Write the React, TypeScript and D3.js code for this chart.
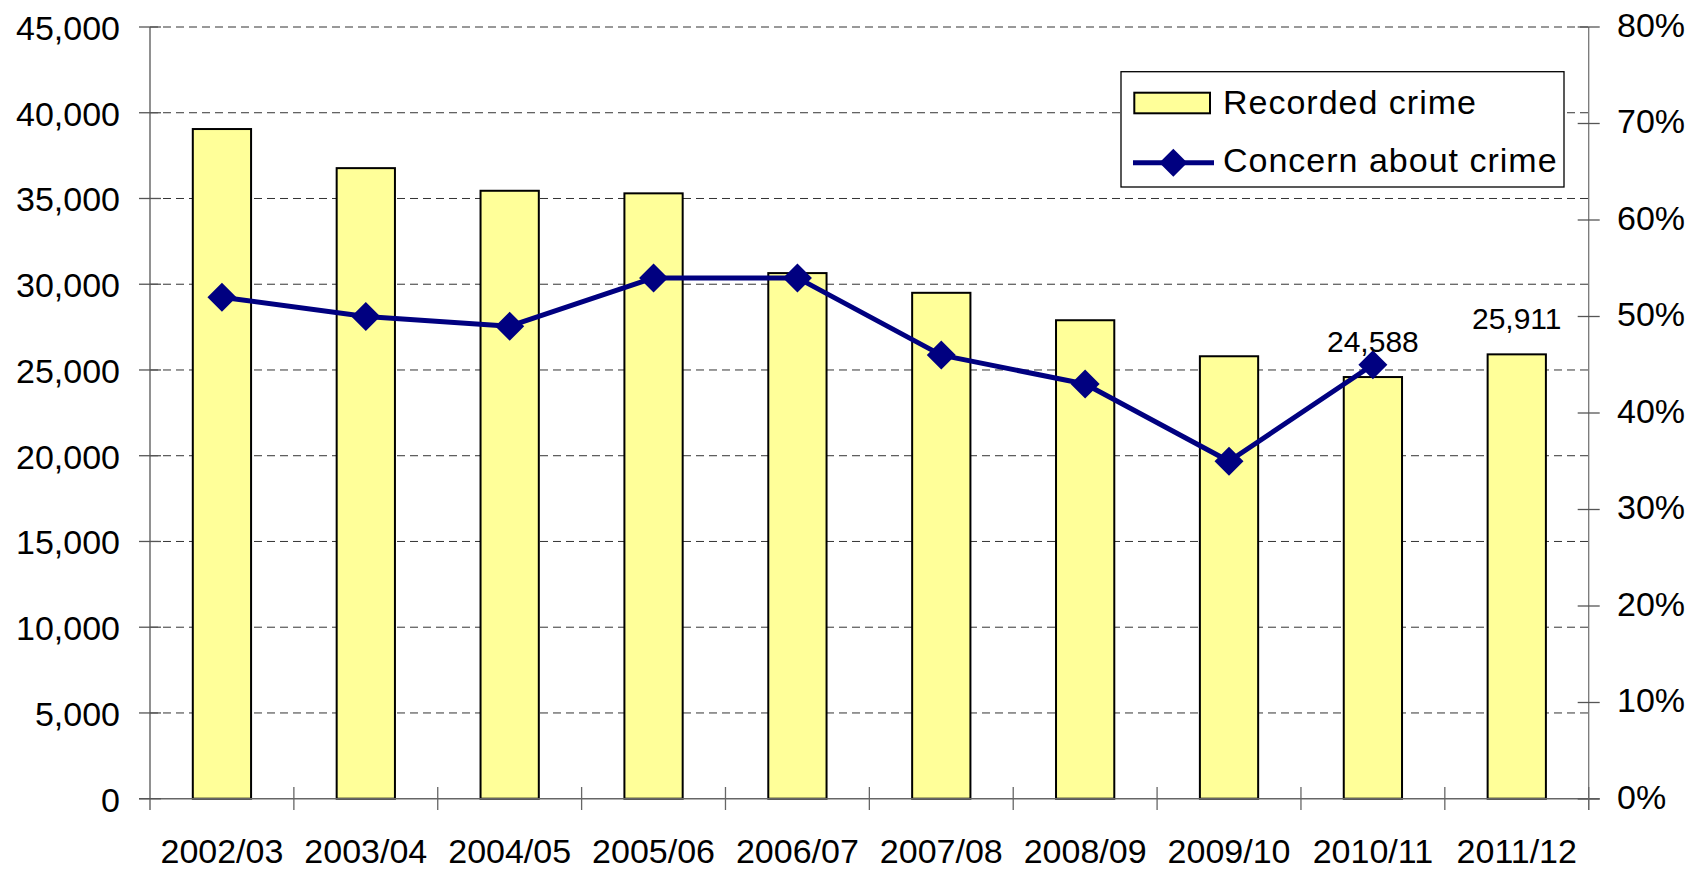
import React from "react";
import * as d3 from "d3";

const categories = ["2002/03","2003/04","2004/05","2005/06","2006/07","2007/08","2008/09","2009/10","2010/11","2011/12"];
const recordedCrime = [39050, 36770, 35450, 35300, 30650, 29500, 27900, 25800, 24588, 25911];
const concern = [0.52, 0.50, 0.49, 0.54, 0.54, 0.46, 0.43, 0.35, 0.45, null];
const leftTicks = [0,5000,10000,15000,20000,25000,30000,35000,40000,45000];
const rightTicks = [0,0.1,0.2,0.3,0.4,0.5,0.6,0.7,0.8];
const labelledIdx = [8, 9];

const W = 1699, H = 871;
const X0 = 150, X1 = 1588.7;
const FONT = "'Liberation Sans', Arial, sans-serif";

export default function App() {
  const x = d3.scaleBand<string>().domain(categories).range([X0, X1]).paddingInner(0.595).paddingOuter(0.2975);
  const step = (X1 - X0) / categories.length;
  const yL = d3.scaleLinear().domain([0, 45000]).range([798.7, 27]);
  const yR = d3.scaleLinear().domain([0, 0.8]).range([799, 27]);
  const fmt = d3.format(",");
  const pct = d3.format(".0%");
  const pts = concern.map((v, i) => ({ v, i })).filter(d => d.v !== null) as { v: number; i: number }[];
  const line = d3.line<{ v: number; i: number }>()
    .x(d => (x(categories[d.i]) as number) + x.bandwidth() / 2)
    .y(d => yR(d.v));
  const diamond = (cx: number, cy: number, r: number) => `M${cx},${cy - r}L${cx + r},${cy}L${cx},${cy + r}L${cx - r},${cy}Z`;

  return (
    <svg width={W} height={H} style={{ position: "absolute", left: 0, top: 0, background: "#fff" }} fontFamily={FONT}>
      <rect x={0} y={0} width={W} height={H} fill="#fff" />
      {/* gridlines */}
      {leftTicks.slice(1).map(t => (
        <line key={"g" + t} x1={X0} x2={X1} y1={yL(t)} y2={yL(t)} stroke="#333" strokeWidth={1} strokeDasharray="8,5" />
      ))}
      {/* bars */}
      {categories.map((c, i) => (
        <rect key={c} x={x(c)} y={yL(recordedCrime[i])} width={x.bandwidth()} height={yL(0) - yL(recordedCrime[i])}
          fill="#FFFF99" stroke="#000" strokeWidth={2} />
      ))}
      {/* axes */}
      <line x1={X0} x2={X0} y1={27} y2={810} stroke="#555" strokeWidth={1.3} />
      <line x1={X1} x2={X1} y1={27} y2={810} stroke="#777" strokeWidth={1.3} />
      <line x1={X0 - 11} x2={X1 + 11} y1={798.7} y2={798.7} stroke="#666" strokeWidth={1.5} />
      {leftTicks.map(t => (
        <g key={"l" + t}>
          <line x1={X0 - 11} x2={X0 + 11} y1={yL(t)} y2={yL(t)} stroke="#555" strokeWidth={1.3} />
          <text x={120} y={yL(t) + 13} textAnchor="end" fontSize={34} fill="#000">{fmt(t)}</text>
        </g>
      ))}
      {rightTicks.map(t => (
        <g key={"r" + t}>
          <line x1={X1 - 11} x2={X1 + 11} y1={yR(t)} y2={yR(t)} stroke="#555" strokeWidth={1.3} />
          <text x={1617} y={yR(t) + 9.5} textAnchor="start" fontSize={34} fill="#000">{pct(t)}</text>
        </g>
      ))}
      {categories.map((c, i) => (
        <g key={"x" + c}>
          <line x1={X0 + step * (i + 1)} x2={X0 + step * (i + 1)} y1={787} y2={810} stroke="#666" strokeWidth={1.3} />
          <text x={(x(c) as number) + x.bandwidth() / 2} y={863} textAnchor="middle" fontSize={34} fill="#000">{c}</text>
        </g>
      ))}
      {/* line */}
      <path d={line(pts) || ""} fill="none" stroke="#000080" strokeWidth={5} strokeLinejoin="round" />
      {pts.map(d => (
        <path key={"m" + d.i} d={diamond((x(categories[d.i]) as number) + x.bandwidth() / 2, yR(d.v), 14.5)} fill="#000080" />
      ))}
      {/* data labels */}
      {labelledIdx.map(i => (
        <text key={"dl" + i} x={(x(categories[i]) as number) + x.bandwidth() / 2} y={yL(recordedCrime[i]) - 25.5}
          textAnchor="middle" fontSize={30} fill="#000">{fmt(recordedCrime[i])}</text>
      ))}
      {/* legend */}
      <rect x={1121} y={71.7} width={443} height={115.3} fill="#fff" stroke="#000" strokeWidth={1.3} />
      <rect x={1134.3} y={92.7} width={75.7} height={20.6} fill="#FFFF99" stroke="#000" strokeWidth={2} />
      <text x={1223} y={114} fontSize={34} letterSpacing={1} fill="#000">Recorded crime</text>
      <line x1={1133} x2={1214} y1={162.7} y2={162.7} stroke="#000080" strokeWidth={5} />
      <path d={diamond(1173.3, 162.7, 14)} fill="#000080" />
      <text x={1223} y={171.7} fontSize={34} letterSpacing={1} fill="#000">Concern about crime</text>
    </svg>
  );
}
